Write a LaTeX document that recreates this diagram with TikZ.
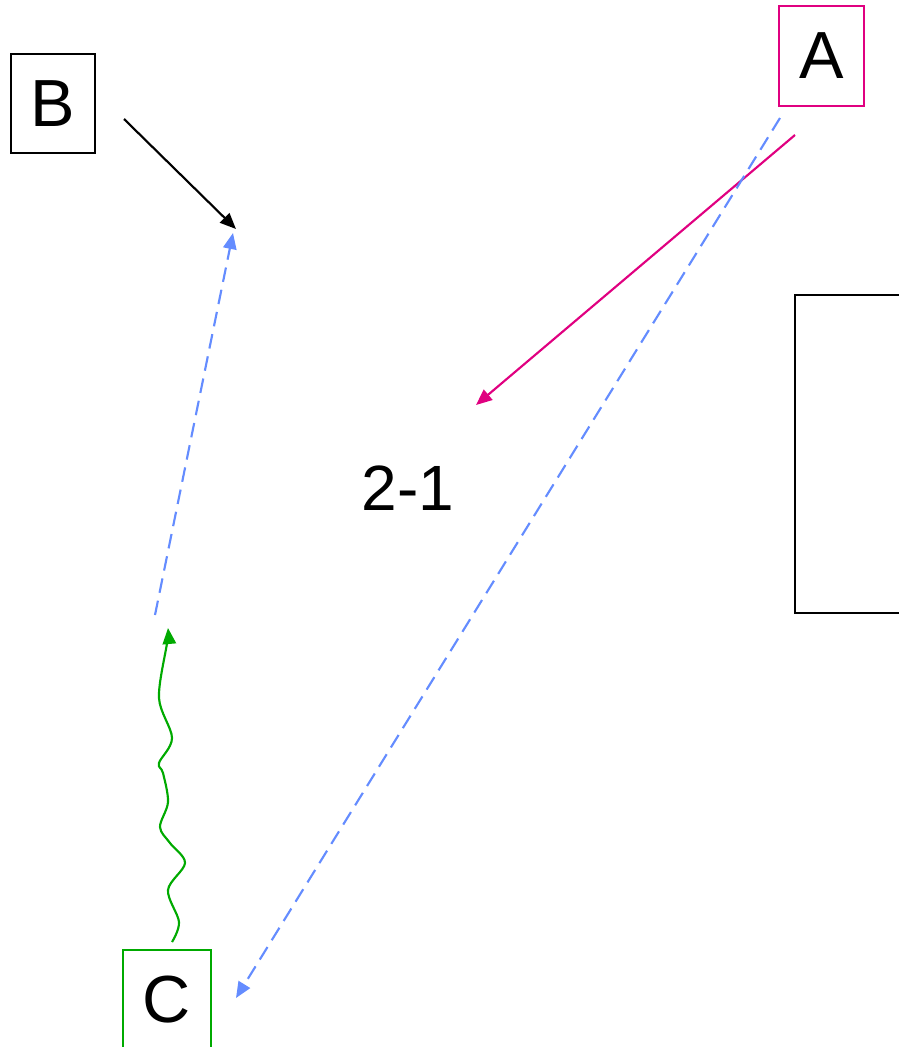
\documentclass[tikz,border=0pt]{standalone}
\usepackage{fontspec}
\setmainfont{Liberation Sans}
\usetikzlibrary{arrows.meta}
\definecolor{dblue}{RGB}{100,140,255}
\definecolor{pink}{RGB}{224,0,128}
\definecolor{grn}{RGB}{0,170,0}
\tikzset{
  box/.style  = {draw, line width=1.6pt, inner sep=0pt,
                 font=\fontsize{50}{60}\selectfont},
  lbl/.style  = {inner sep=0pt, font=\fontsize{48}{58}\selectfont},
  e/.style    = {-{Triangle[length=12pt,width=10pt]}, line width=1.6pt},
  dsh/.style  = {e, dblue, dash pattern=on 11pt off 6pt},
  wave/.style = {e, grn}
}
\begin{document}
\begin{tikzpicture}[x=0.75pt,y=-0.75pt]
  \useasboundingbox (0,0) rectangle (899,1047);
  \clip (0,0) rectangle (899,1047);
  % ---- boxes ----
  \node[box, minimum width=63pt, minimum height=74.25pt] (b) at (53,103.5) {B};
  \node[box, draw=pink, minimum width=63.75pt, minimum height=75pt] (a) at (821.5,56) {A};
  \node[box, draw=grn, minimum width=66pt, minimum height=75pt] (c) at (167,1000) {C};
  \node[box, minimum width=153.75pt, minimum height=238.5pt] (blk) at (897.5,454) {};
  \node[lbl] (two) at (408,488.5) {2-1};
  % ---- free ends ----
  \coordinate (b0) at (124,119);  \coordinate (b1) at (236,229);
  \coordinate (u0) at (155,615);  \coordinate (u1) at (233,233);
  \coordinate (m0) at (795,135);  \coordinate (m1) at (476,405);
  \coordinate (l0) at (780,118);  \coordinate (l1) at (236,998);
  \coordinate (c0) at (172,942);  \coordinate (c1) at (168,628);
  % ---- connectors ----
  \draw[e] (b0) -- (b1);
  \draw[dsh] (u0) -- (u1);
  \draw[e, pink] (m0) -- (m1);
  \draw[dsh] (l0) -- (l1);
  \draw[wave] plot[smooth, tension=0.55] coordinates {(c0) (179,922) (168,890)
    (185,863) (170,843) (160,827) (168,802) (163,773) (159,763) (172,738)
    (159,698) (167,643) (c1)};
\end{tikzpicture}
\end{document}
